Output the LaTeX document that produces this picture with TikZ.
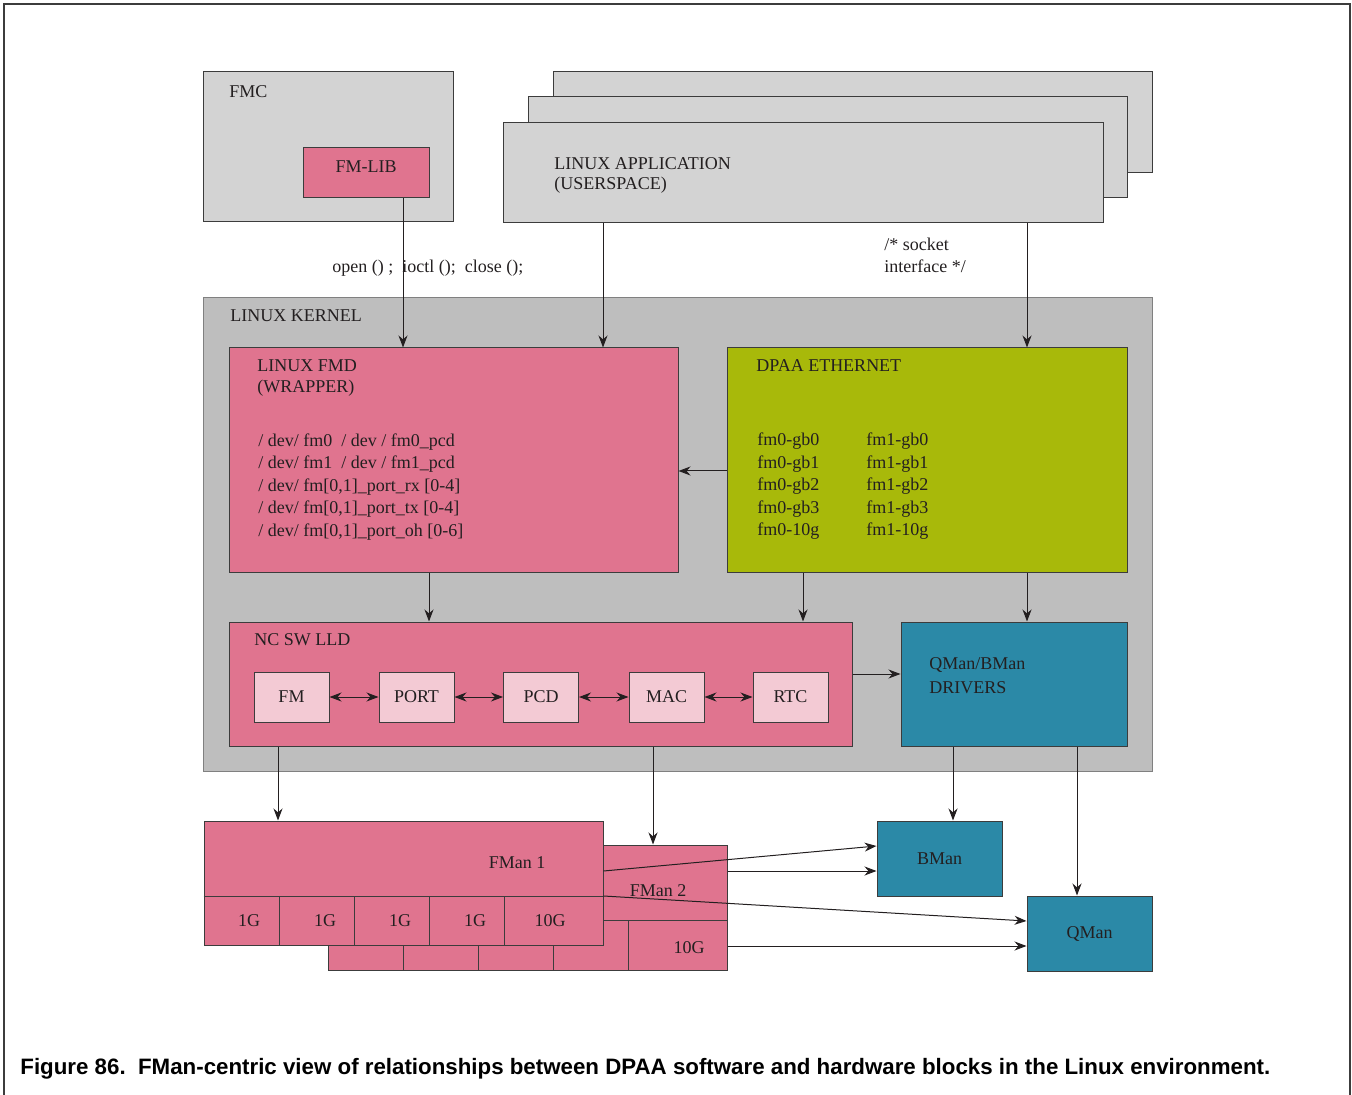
\documentclass[tikz,border=0pt]{standalone}
\usepackage{fontspec}
\setmainfont{Liberation Serif}
\newfontfamily\capfont{Liberation Sans}
\usetikzlibrary{arrows.meta,fit,positioning}

\definecolor{fmpink}{RGB}{224,116,143}
\definecolor{subpink}{RGB}{243,202,212}
\definecolor{appgray}{RGB}{211,211,211}
\definecolor{kgray}{RGB}{190,190,190}
\definecolor{ethgreen}{RGB}{168,185,10}
\definecolor{qbteal}{RGB}{43,137,167}
\definecolor{edge}{RGB}{60,60,60}
\definecolor{ink}{RGB}{35,31,32}

\tikzset{
  blk/.style={draw=edge, line width=0.5pt, inner sep=0pt},
  txt/.style={inner sep=0pt, anchor=west, yshift=-0.8pt, text=ink, font=\fontsize{9}{11}\selectfont},
  ctxt/.style={txt, anchor=center},
  sub/.style={blk, fill=subpink, minimum width=37.5pt, minimum height=25pt, text=ink, font=\fontsize{9}{11}\selectfont},
  hw/.style={blk, fill=qbteal, minimum width=62.5pt, minimum height=37.5pt, text=ink, font=\fontsize{9}{11}\selectfont},
  arr/.style={draw=ink, line width=0.5pt, -{Stealth[length=6pt,width=4.5pt]}},
  dbl/.style={arr, {Stealth[length=6pt,width=4.5pt]}-{Stealth[length=6pt,width=4.5pt]}},
}

\begin{document}
\begin{tikzpicture}[x=0.5pt,y=-0.5pt]
  \useasboundingbox (0,0) rectangle (1352,1095);
  % Frame
  \draw[draw=edge, line width=1pt] (4,1095) -- (4,4) -- (1350,4) -- (1350,1095);

  % FMC
  \node[blk, fill=appgray, fit={(203,72) (453,222)}] (fmc) {};
  \node[txt] (fmct) at (229,90) {FMC};
  \node[blk, fill=fmpink, fit={(303,148) (429,198)}] (fmlib) {};
  \node[ctxt] (fmlibt) at (366,165) {FM-LIB};

  % Userspace applications
  \node[blk, fill=appgray, fit={(553,72) (1152,173)}] (app3) {};
  \node[blk, fill=appgray, fit={(528,97) (1127,198)}] (app2) {};
  \node[blk, fill=appgray, fit={(503,123) (1103,223)}] (app) {};
  \node[txt] (appt1) at (554,162) {LINUX APPLICATION};
  \node[txt] (appt2) at (554,184) {(USERSPACE)};

  \node[txt] (sysc) at (332,267) {open () ;\ \ ioctl ();\ \ close ();};
  \node[txt] (sock1) at (884,243) {/* socket};
  \node[txt] (sock2) at (884,265) {interface */};

  % Kernel
  \node[blk, draw=gray, fill=kgray, fit={(203,298) (1152,771)}] (kern) {};
  \node[txt] (kernt) at (230,314) {LINUX KERNEL};

  \node[blk, fill=fmpink, fit={(229,348) (678,572)}] (fmd) {};
  \node[txt] (fmdt1) at (257,364) {LINUX FMD};
  \node[txt] (fmdt2) at (257,387) {(WRAPPER)};
  \foreach \l [count=\i] in {{/ dev/ fm0\ \ / dev / fm0\_pcd},
      {/ dev/ fm1\ \ / dev / fm1\_pcd},
      {/ dev/ fm[0,1]\_port\_rx [0-4]},
      {/ dev/ fm[0,1]\_port\_tx [0-4]},
      {/ dev/ fm[0,1]\_port\_oh [0-6]}}
    \node[txt] (dev\i) at (258,{440+22.5*(\i-1)}) {\l};

  \node[blk, fill=ethgreen, fit={(727,348) (1127,572)}] (eth) {};
  \node[txt] (etht) at (756,364) {DPAA ETHERNET};
  \foreach \p [count=\i] in {gb0,gb1,gb2,gb3,10g} {
    \node[txt] (ifa\i) at (757,{440+22.5*(\i-1)}) {fm0-\p};
    \node[txt] (ifb\i) at (866,{440+22.5*(\i-1)}) {fm1-\p};
  }

  % NC SW LLD
  \node[blk, fill=fmpink, fit={(229,622) (852,746)}] (lld) {};
  \node[txt] (lldt) at (254,638) {NC SW LLD};
  \node[sub] (fm) at (291.5,697) {FM};
  \node[sub] (port) at (416.5,697) {PORT};
  \node[sub] (pcd) at (541,697) {PCD};
  \node[sub] (mac) at (666.5,697) {MAC};
  \node[sub] (rtc) at (790.5,697) {RTC};
  \draw[dbl] (fm) -- (port);
  \draw[dbl] (port) -- (pcd);
  \draw[dbl] (pcd) -- (mac);
  \draw[dbl] (mac) -- (rtc);

  \node[blk, fill=qbteal, fit={(901,622) (1127,746)}] (drv) {};
  \node[txt] (drvt1) at (929,663) {QMan/BMan};
  \node[txt] (drvt2) at (929,686) {DRIVERS};

  % FMan blocks
  \node[blk, fill=fmpink, fit={(328,845) (727,970)}] (fman2) {};
  \draw[draw=edge, line width=0.5pt] (fman2.west |- 0,920) -- (fman2.east |- 0,920);
  \foreach \x in {403,478,553,628}
    \draw[draw=edge, line width=0.5pt] (\x,920) -- (fman2.south -| \x,0);
  \node[ctxt] (fman2t) at (658,889) {FMan 2};
  \node[ctxt] (fman2p) at (689,946) {10G};

  \node[blk, fill=fmpink, fit={(204,821) (603,945)}] (fman1) {};
  \draw[draw=edge, line width=0.5pt] (fman1.west |- 0,896) -- (fman1.east |- 0,896);
  \foreach \x in {279,354,429,504}
    \draw[draw=edge, line width=0.5pt] (\x,896) -- (fman1.south -| \x,0);
  \node[ctxt] (fman1t) at (517,861) {FMan 1};
  \foreach \x/\t [count=\i] in {249/1G,325/1G,400/1G,475/1G,550/10G}
    \node[ctxt] (fman1p\i) at (\x,919) {\t};

  \node[hw] (bman) at (939.5,858.5) {BMan};
  \node[hw] (qman) at (1089.5,933.5) {QMan};

  % Connections
  \draw[arr] (fmlib.south -| 403,0) -- (fmd.north -| 403,0);
  \draw[arr] (app.south -| 603,0) -- (fmd.north -| 603,0);
  \draw[arr] (app.south -| 1027,0) -- (eth.north -| 1027,0);
  \draw[arr] (eth.west |- 0,471) -- (fmd.east |- 0,471);
  \draw[arr] (fmd.south -| 429,0) -- (lld.north -| 429,0);
  \draw[arr] (eth.south -| 803,0) -- (lld.north -| 803,0);
  \draw[arr] (eth.south -| 1027,0) -- (drv.north -| 1027,0);
  \draw[arr] (lld.east |- 0,674) -- (drv.west |- 0,674);
  \draw[arr] (lld.south -| 278,0) -- (fman1.north -| 278,0);
  \draw[arr] (lld.south -| 653,0) -- (fman2.north -| 653,0);
  \draw[arr] (drv.south -| 953,0) -- (bman.north -| 953,0);
  \draw[arr] (drv.south -| 1077,0) -- (qman.north -| 1077,0);
  \draw[arr] (fman1.east |- 0,871) -- (bman.west |- 0,846);
  \draw[arr] (fman2.east |- 0,871) -- (bman.west |- 0,871);
  \draw[arr] (fman1.east |- 0,896) -- (qman.west |- 0,921);
  \draw[arr] (fman2.east |- 0,946) -- (qman.west |- 0,946);

  % Caption
  \node[inner sep=0pt, anchor=west, font=\capfont\bfseries\fontsize{11.15}{13}\selectfont] (cap) at (20,1069)
    {Figure 86.\ \ FMan-centric view of relationships between DPAA software and hardware blocks in the Linux environment.};
\end{tikzpicture}
\end{document}
